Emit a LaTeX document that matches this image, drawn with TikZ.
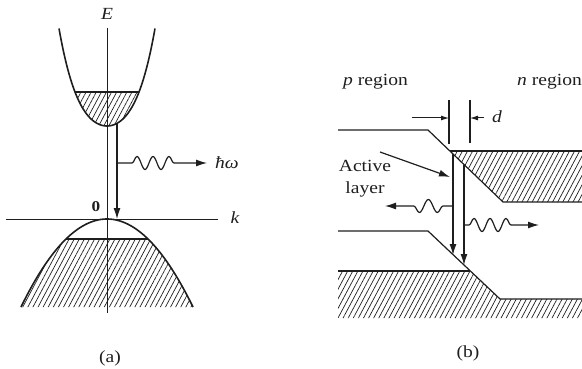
\documentclass[tikz,border=0pt]{standalone}
\usepackage{fontspec}
\setmainfont[FakeStretch=1.15]{Liberation Serif}
\usetikzlibrary{arrows.meta,decorations.pathmorphing,patterns.meta}
\definecolor{inkC}{HTML}{1E1E1E}
\tikzset{
  axis/.style={draw=inkC, line width=0.8pt},
  band/.style={draw=inkC, line width=1.6pt},
  edge/.style={draw=inkC, line width=1.2pt},
  hatch/.style={pattern={Lines[angle=62,distance=4.5pt,line width=0.7pt]}, pattern color=inkC},
  arr/.style={-{Latex[length=11pt,width=7pt]}, draw=inkC, line width=1.2pt},
  sarr/.style={-{Latex[length=8pt,width=5pt]}, draw=inkC, line width=1pt},
  wave/.style n args={3}{arr, decorate, decoration={snake, amplitude=6.5pt, segment length=#1,
              pre length=#2, post length=#3}},
  lab/.style={font=\fontsize{17}{22}\selectfont, text=inkC, inner sep=0pt},
}
\begin{document}
\begin{tikzpicture}[x=1pt,y=-1pt]
\useasboundingbox (0,0) rectangle (582,369);
% (a) bands in k space
\begin{scope}
  \clip (30,92) rectangle (190,140);
  \fill[hatch] plot[domain=59:155, samples=80] (\x,{126-2.59*((\x-107)/10)^2-0.07125*((\x-107)/10)^4}) -- cycle;
\end{scope}
\begin{scope}
  \clip (0,239) rectangle (300,330);
  \fill[hatch] plot[domain=21:193, samples=80] (\x,{219+0.0119*(\x-107)^2}) -- cycle;
\end{scope}
\draw[axis] (107,28) coordinate (Etop) -- (107,313) coordinate (Ebot);
\draw[axis] (6,219) coordinate (kleft) -- (218,219) coordinate (kright);
\draw[band] plot[domain=59:155, samples=80] (\x,{126-2.59*((\x-107)/10)^2-0.07125*((\x-107)/10)^4});
\draw[band] plot[domain=21:193, samples=80] (\x,{219+0.0119*(\x-107)^2});
\draw[edge] (75,92) coordinate (cfl) -- (139,92) coordinate (cfr);
\draw[edge] (66,239) coordinate (vfl) -- (148,239) coordinate (vfr);
\coordinate (cbot) at (117,124);
\coordinate (vtop) at (117,219);
\draw[arr] (cbot) -- (vtop);
\coordinate (wa0) at (117,163);
\coordinate (wa1) at (207,163);
\draw[wave={16pt}{15pt}{27pt}] (wa0) -- (wa1);
\node[lab, anchor=west] (hw) at (215,163) {\textit{ħω}};
\node[lab] (Elab) at (107,14) {\textit{E}};
\node[lab] (klab) at (235,218) {\textit{k}};
\node[lab, font=\fontsize{15}{18}\selectfont\bfseries] (zero) at (96,207) {0};
\node[lab] (capa) at (110,358) {(a)};
% (b) junction in real space
\coordinate (cp0) at (338,130);
\coordinate (cp1) at (428,130);
\coordinate (cn1) at (503,202);
\coordinate (cn2) at (582,202);
\coordinate (vp0) at (338,231);
\coordinate (vp1) at (428,231);
\coordinate (vn1) at (500,299);
\coordinate (vn2) at (582,299);
\fill[hatch] (450,151) -- (582,151) -- (cn2) -- (cn1) -- cycle;
\fill[hatch] (338,271) -- (470,271) -- (vn1) -- (vn2) -- (582,318) -- (338,318) -- cycle;
\draw[edge] (cp0) -- (cp1) -- (cn1) -- (cn2);
\draw[edge] (vp0) -- (vp1) -- (vn1) -- (vn2);
\draw[edge] (450,151) -- (582,151);
\draw[edge] (338,271) -- (470,271);
\draw[arr] (453,154) coordinate (up1) -- (453,255) coordinate (lo1);
\draw[arr] (464,165) coordinate (up2) -- (464,265) coordinate (lo2);
\draw[wave={18pt}{10pt}{22pt}] (453,206) coordinate (wl0) -- (385,206) coordinate (wl1);
\draw[wave={16pt}{5pt}{21pt}] (464,225) coordinate (wr0) -- (539,225) coordinate (wr1);
\draw[edge] (449,100) coordinate (dl0) -- (449,144) coordinate (dl1);
\draw[edge] (470,100) coordinate (dr0) -- (470,143) coordinate (dr1);
\draw[sarr] (412,118) -- (dl0 |- 0,118);
\draw[sarr] (484,118) -- (dr0 |- 0,118);
\node[lab] (dlab) at (497,117) {\textit{d}};
\node[lab] (act) at (365,179) [align=center] {Active\\layer};
\draw[arr] (380,152) -- (450,177);
\node[lab, anchor=west] (preg) at (343,82) {\textit{p} region};
\node[lab, anchor=west] (nreg) at (517,82) {\textit{n} region};
\node[lab] (capb) at (468,353) {(b)};
\end{tikzpicture}
\end{document}
